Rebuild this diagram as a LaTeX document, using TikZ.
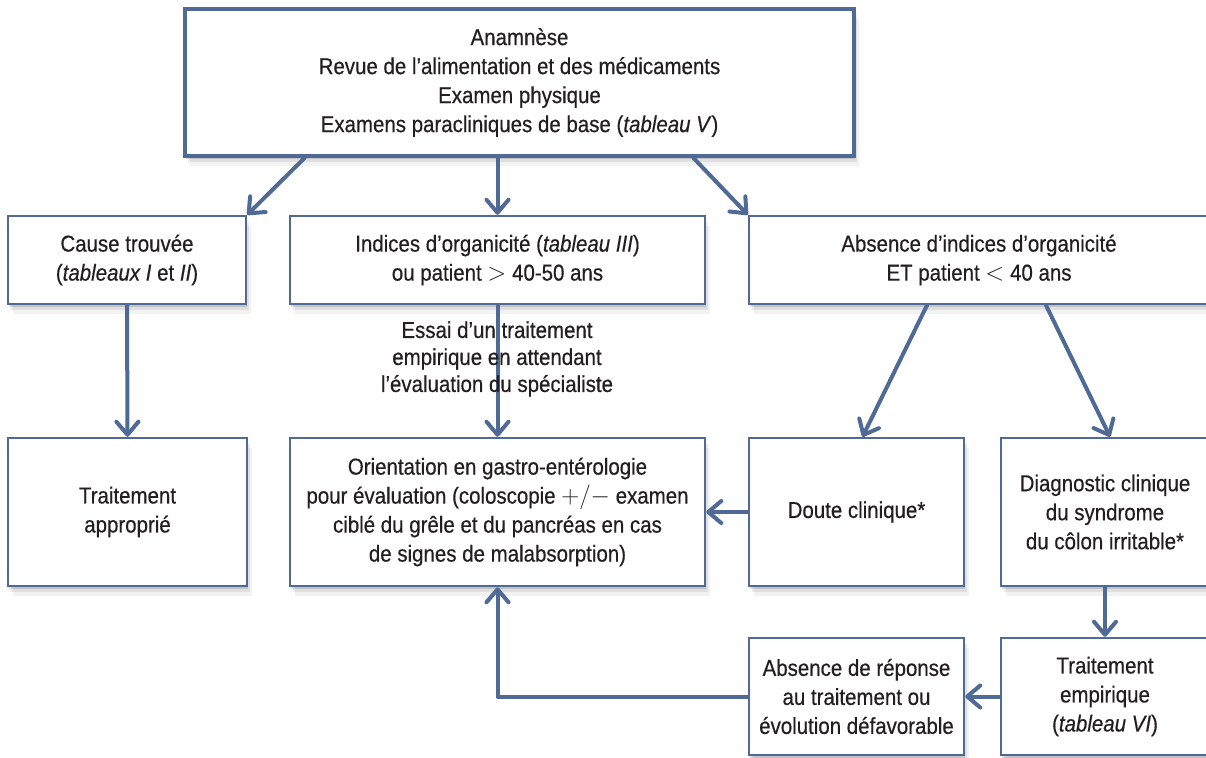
\documentclass[tikz,border=0pt]{standalone}
\usepackage{fontspec}
\setmainfont{Liberation Sans}[FakeStretch=0.89,FakeBold=0.5]
\usetikzlibrary{arrows.meta,shadows,calc}
\definecolor{bblue}{HTML}{506A96}
\definecolor{txt}{HTML}{231F20}
\begin{document}
\begin{tikzpicture}[x=1pt,y=-1pt,
  softshadow/.style={
    drop shadow={shadow xshift=1pt,shadow yshift=-3pt,opacity=0.12,fill=black},
    drop shadow={shadow xshift=3pt,shadow yshift=-6pt,opacity=0.08,fill=black},
    drop shadow={shadow xshift=5pt,shadow yshift=-10pt,opacity=0.05,fill=black}},
  box/.style={draw=bblue, line width=2.5pt, fill=white, inner sep=0pt,
    align=center, text=txt, font=\fontsize{23}{29}\selectfont, softshadow},
  lbl/.style={align=center, text=txt, font=\fontsize{23}{27}\selectfont, inner sep=0pt},
  arr/.style={draw=bblue, line width=4pt, line cap=round, line join=round,
    -{Straight Barb[length=13pt,width=22pt,round]}}
]
\useasboundingbox (0,0) rectangle (1206,757);
\clip (0,0) rectangle (1206,757);
\fill[white] (0,0) rectangle (1206,757);

% nodes
\node[box, line width=4pt, minimum width=669pt, minimum height=147pt] (top) at (519.5,82.5)
  {Anamnèse\\Revue de l’alimentation et des médicaments\\Examen physique\\Examens paracliniques de base (\textit{tableau V})};
\node[box, minimum width=238pt, minimum height=88pt] (cause) at (127,260)
  {Cause trouvée\\(\textit{tableaux I} et \textit{II})};
\node[box, minimum width=415pt, minimum height=88pt] (indices) at (497.5,260)
  {Indices d’organicité (\textit{tableau III})\\ou patient $>$ 40-50 ans};
\node[box, minimum width=460pt, minimum height=88pt] (absence) at (979,260)
  {Absence d’indices d’organicité\\ET patient $<$ 40 ans};
\node[box, minimum width=239pt, minimum height=148pt] (trappr) at (127.5,512)
  {Traitement\\approprié};
\node[box, minimum width=415pt, minimum height=148pt] (orient) at (497.5,512)
  {Orientation en gastro-entérologie\\pour évaluation (coloscopie $+/-$ examen\\ciblé du grêle et du pancréas en cas\\de signes de malabsorption)};
\node[box, minimum width=215pt, minimum height=148pt] (doute) at (856.5,512)
  {Doute clinique*};
\node[box, minimum width=208pt, minimum height=148pt] (diag) at (1105,512)
  {Diagnostic clinique\\du syndrome\\du côlon irritable*};
\node[box, minimum width=215pt, minimum height=117pt] (absrep) at (856.5,696.5)
  {Absence de réponse\\au traitement ou\\évolution défavorable};
\node[box, minimum width=208pt, minimum height=117pt] (traitemp) at (1105,696.5)
  {Traitement\\empirique\\(\textit{tableau VI})};

% connectors
\draw[arr] ([xshift=-215pt]top.south) -- (cause.north east);
\draw[arr] (top.south -| indices.north) -- (indices.north);
\draw[arr] ([xshift=174pt]top.south) -- (absence.north west);
\draw[arr] (cause.south) -- (trappr.north);
\draw[arr] (indices.south) -- (orient.north);
\node[lbl] (essai) at (497,359) {Essai d’un traitement\\empirique en attendant\\l’évaluation du spécialiste};
\draw[arr] ([xshift=-52pt]absence.south) -- ([xshift=6pt]doute.north);
\draw[arr] ([xshift=67pt]absence.south) -- ([xshift=5pt]diag.north);
\draw[arr] (doute.west) -- (orient.east);
\draw[arr] (diag.south) -- (traitemp.north);
\draw[arr] (traitemp.west) -- (absrep.east);
\draw[arr] (absrep.west) -| (orient.south);
\end{tikzpicture}
\end{document}
